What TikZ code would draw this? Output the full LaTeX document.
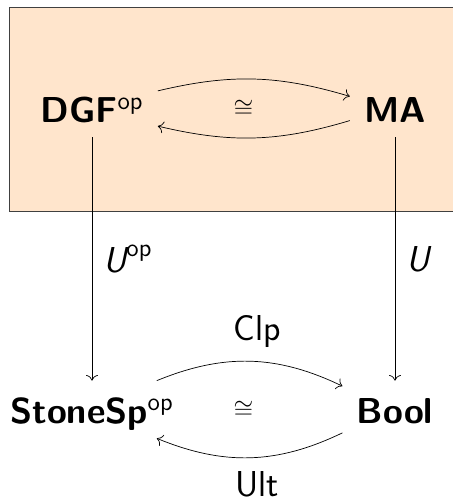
\documentclass[tikz,border=0pt]{standalone}
\usepackage{amsmath}
\usetikzlibrary{arrows.meta}

\newcommand{\catfont}{\sffamily\fontsize{20.5}{24}\selectfont}

\begin{document}
\begin{tikzpicture}[x=0.02cm, y=0.02cm, >={To[scale=1.3]},
    obj/.style={font=\catfont, inner sep=0.28cm, text height=0.58cm, text depth=0pt},
    lab/.style={font=\catfont}]

% page and shaded block
\clip (0,0) rectangle (453,504);
\draw[black!75, fill=orange!20] (9,293) rectangle (470,497);

% categories
\node[obj] (dgf) at (92,395.5) {\textbf{DGF}$^{\text{op}}$};
\node[obj] (ma) at (395,395.5) {\textbf{MA}};
\node[obj] (stone) at (92,94.5) {\textbf{StoneSp}$^{\text{op}}$};
\node[obj] (bool) at (395,94.5) {\textbf{Bool}};

% equivalence inside the block
\draw[->] (dgf) to[bend left=15] (ma);
\draw[->] (ma) to[bend left=15] (dgf);
\path (dgf.center) -- node[lab] {$\scriptstyle\cong$} (ma.center);

% forgetful functors
\draw[->] (dgf) -- node[lab, right, xshift=0.1cm] {$\textit{U}^{\text{op}}$} (stone);
\draw[->] (ma) -- node[lab, right, xshift=0.1cm] {$\textit{U}$} (bool);

% Stone duality
\draw[->] (stone) to[bend left=24] node[lab, above=0.15cm, xshift=0.14cm] {Clp} (bool);
\draw[->] (bool) to[bend left=24] node[lab, below=0.15cm, xshift=0.14cm] {Ult} (stone);
\path (stone.center) -- node[lab] {$\scriptstyle\cong$} (bool.center);
\end{tikzpicture}
\end{document}
